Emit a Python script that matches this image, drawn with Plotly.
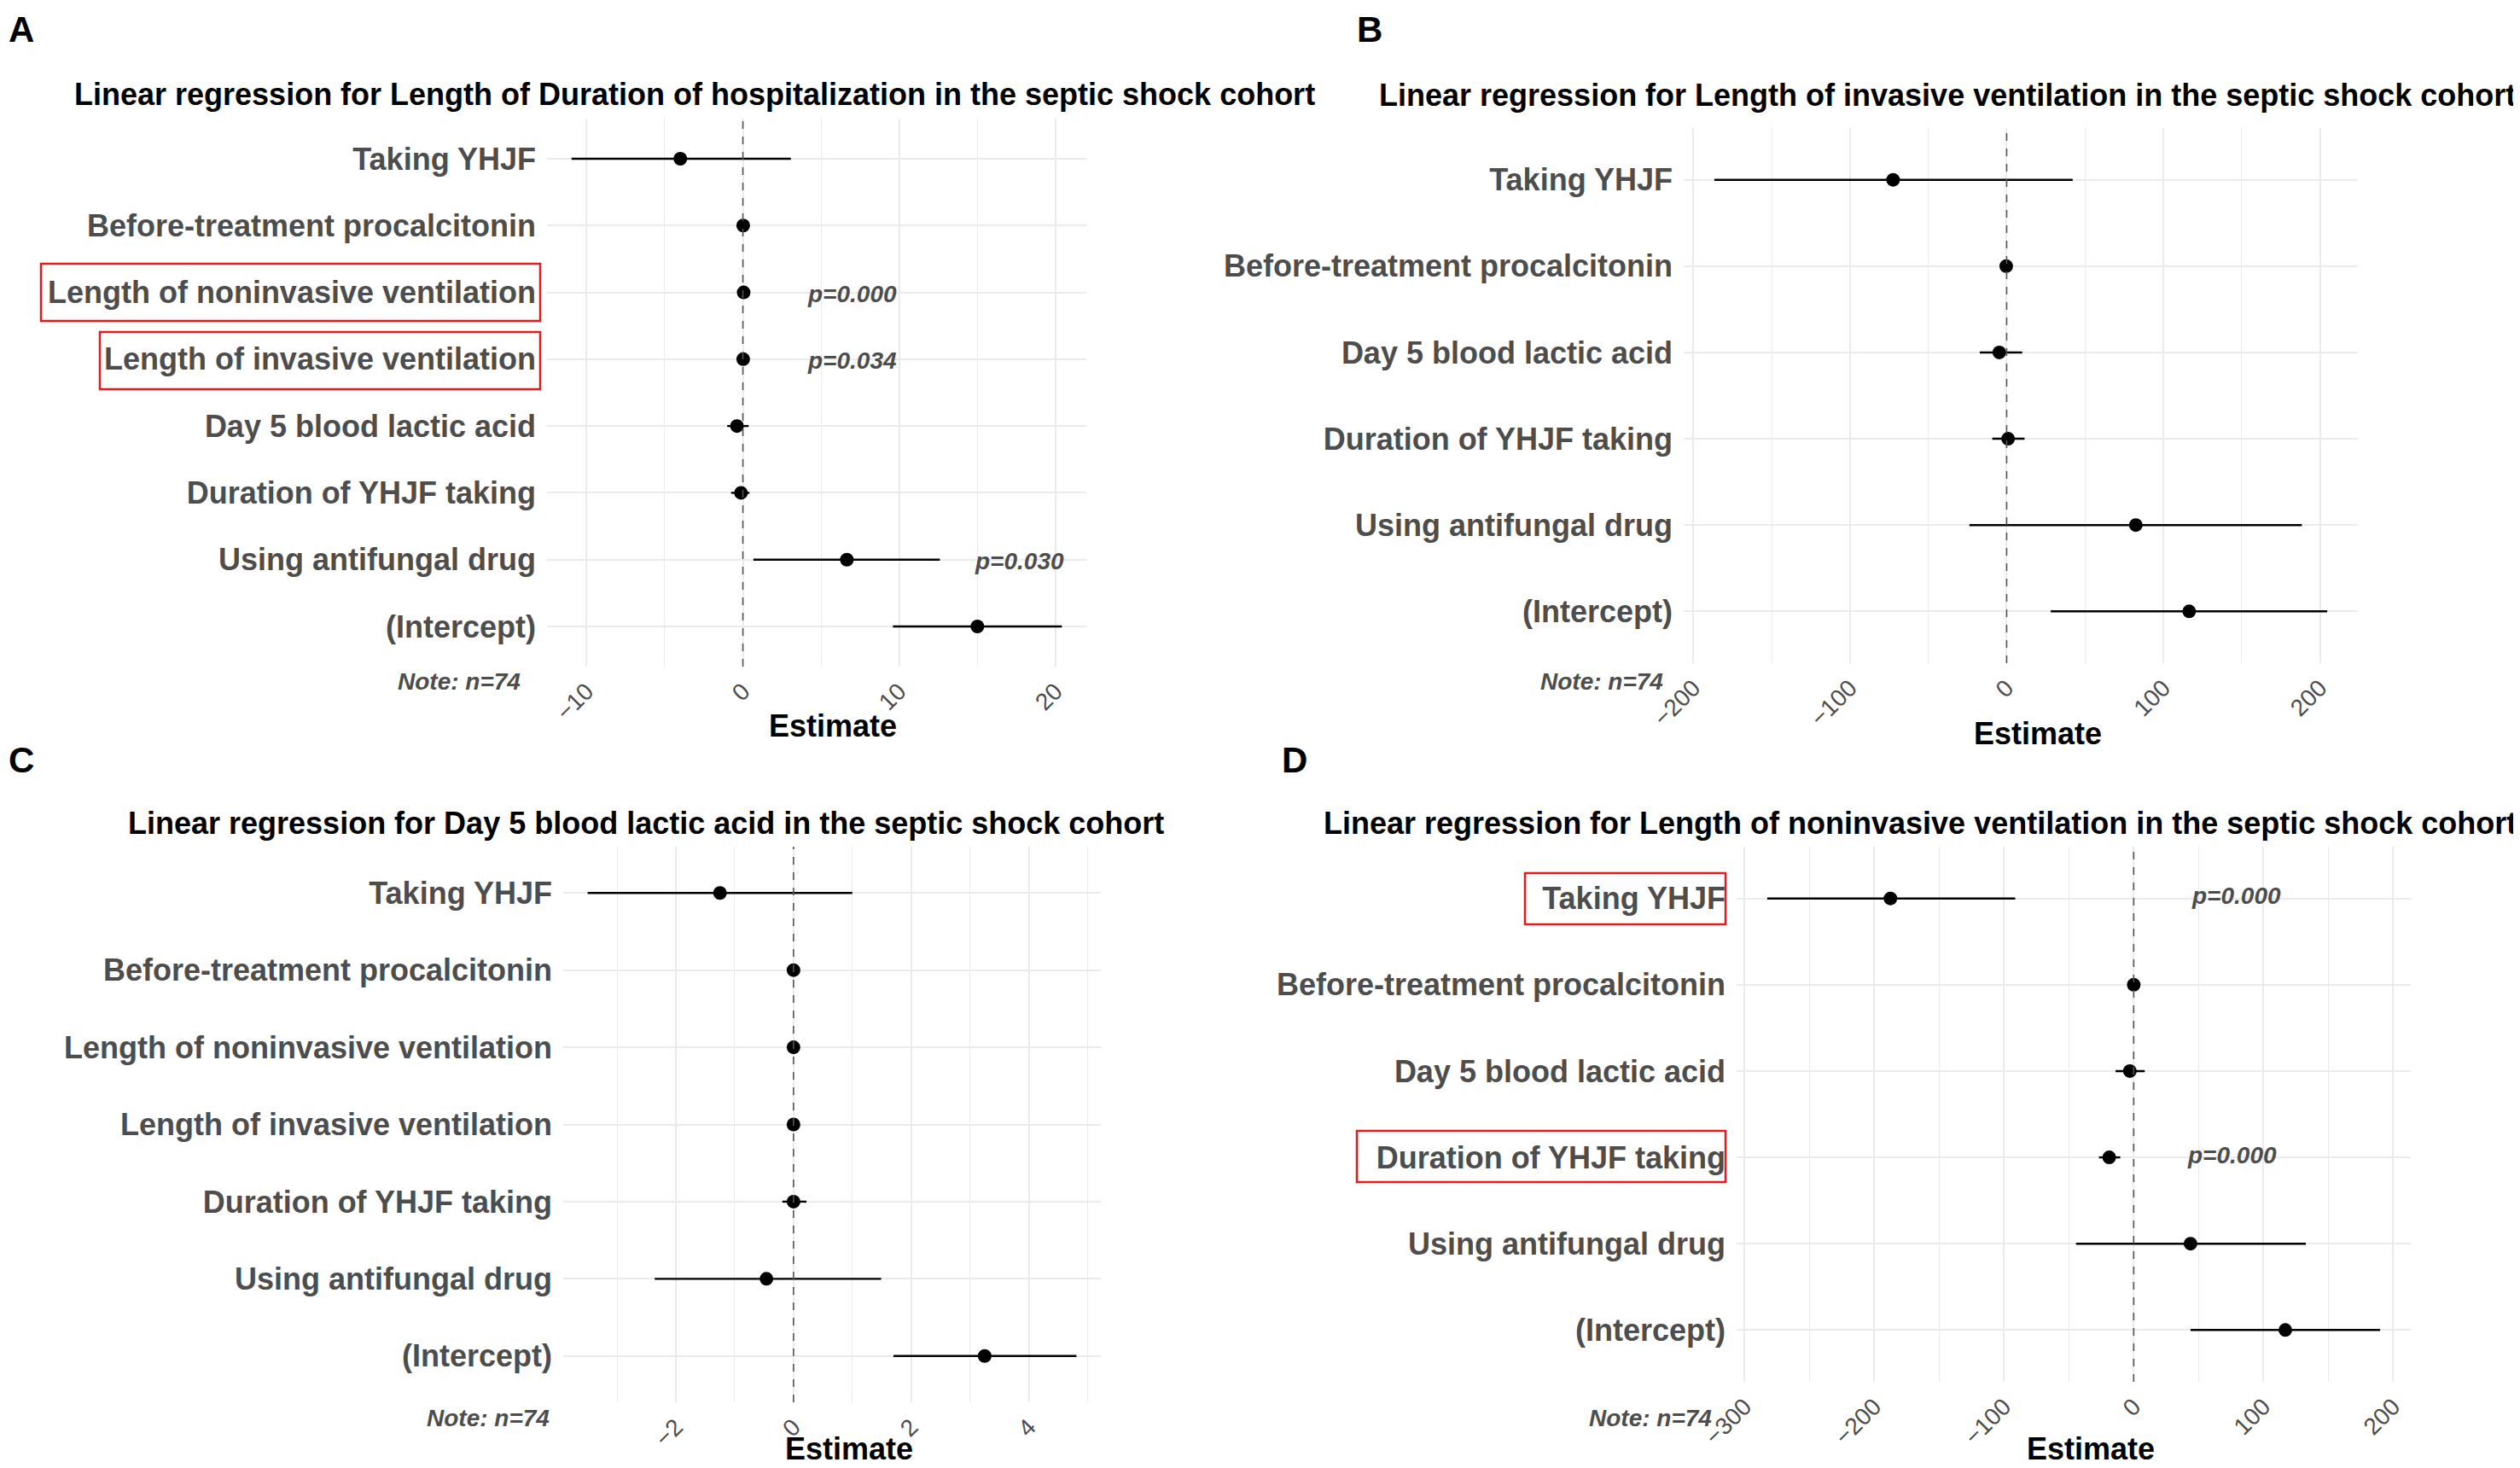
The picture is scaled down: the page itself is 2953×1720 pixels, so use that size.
import plotly.graph_objects as go

W, H = 2953, 1720
OFF = 8  # page body margin of the browser
FW, FH = W - OFF, H - OFF
FONT = "Liberation Sans, Arial, Helvetica, sans-serif"
GREY = "#4D4D4D"

# ---------------- data ----------------
labels_a = ["Taking YHJF", "Before-treatment procalcitonin", "Length of noninvasive ventilation",
            "Length of invasive ventilation", "Day 5 blood lactic acid", "Duration of YHJF taking",
            "Using antifungal drug", "(Intercept)"]
est_a = [-4.0, 0.02, 0.05, 0.02, -0.38, -0.12, 6.65, 15.0]
lo_a = [-10.96, -0.05, 0.0, -0.03, -1.0, -0.75, 0.67, 9.6]
hi_a = [3.07, 0.09, 0.1, 0.07, 0.37, 0.42, 12.6, 20.4]
ticks_a = [-10, 0, 10, 20]
p_text_a = ["p=0.000", "p=0.034", "p=0.030"]
p_row_a = ["Length of noninvasive ventilation", "Length of invasive ventilation", "Using antifungal drug"]
p_x_a = [7.0, 7.0, 17.7]

labels_b = ["Taking YHJF", "Before-treatment procalcitonin", "Day 5 blood lactic acid",
            "Duration of YHJF taking", "Using antifungal drug", "(Intercept)"]
est_b = [-72.5, -0.3, -4.7, 0.9, 82.4, 116.5]
lo_b = [-186.6, -1.0, -17.2, -9.2, -23.8, 28.1]
hi_b = [42.1, 0.4, 9.9, 11.4, 188.4, 204.6]
ticks_b = [-200, -100, 0, 100, 200]

labels_c = ["Taking YHJF", "Before-treatment procalcitonin", "Length of noninvasive ventilation",
            "Length of invasive ventilation", "Duration of YHJF taking", "Using antifungal drug",
            "(Intercept)"]
est_c = [-1.25, 0.0, 0.0, 0.0, 0.0, -0.46, 3.25]
lo_c = [-3.50, -0.01, -0.005, -0.005, -0.19, -2.36, 1.70]
hi_c = [1.0, 0.01, 0.005, 0.005, 0.22, 1.49, 4.81]
ticks_c = [-2, 0, 2, 4]

labels_d = ["Taking YHJF", "Before-treatment procalcitonin", "Day 5 blood lactic acid",
            "Duration of YHJF taking", "Using antifungal drug", "(Intercept)"]
est_d = [-187.6, 0.0, -3.0, -18.9, 43.8, 116.9]
lo_d = [-282.6, -0.5, -14.0, -26.8, -44.5, 43.8]
hi_d = [-91.4, 0.5, 8.5, -10.4, 132.7, 190.0]
ticks_d = [-300, -200, -100, 0, 100, 200]
p_text_d = ["p=0.000", "p=0.000"]
p_row_d = ["Taking YHJF", "Duration of YHJF taking"]
p_x_d = [79.0, 76.0]

titles = ["Linear regression for Length of Duration of hospitalization in the septic shock cohort",
          "Linear regression for Length of invasive ventilation in the septic shock cohort",
          "Linear regression for Day 5 blood lactic acid in the septic shock cohort",
          "Linear regression for Length of noninvasive ventilation in the septic shock cohort"]
panel_letters = ["A", "B", "C", "D"]
note_text = "Note: n=74"
xlab = "Estimate"

# ---------------- layout geometry (window pixels) ----------------
def px(x):
    return max(x - OFF, 0) / FW

def py(y):
    return 1 - max(y - OFF, 0) / FH

panels = [
    dict(lab=labels_a, est=est_a, lo=lo_a, hi=hi_a, ticks=ticks_a, dom_x=(641, 1273), dom_y=(139, 781),
         title_xy=(814, 111), letter_xy=(5, 34), note_xy=(612, 798), xlab_xy=(976, 850)),
    dict(lab=labels_b, est=est_b, lo=lo_b, hi=hi_b, ticks=ticks_b, dom_x=(1973, 2763), dom_y=(150, 777),
         title_xy=(2282, 112), letter_xy=(1588, 34), note_xy=(1951, 798), xlab_xy=(2388, 859)),
    dict(lab=labels_c, est=est_c, lo=lo_c, hi=hi_c, ticks=ticks_c, dom_x=(660, 1290), dom_y=(992, 1643),
         title_xy=(757, 964), letter_xy=(5, 890), note_xy=(646, 1661), xlab_xy=(995, 1697)),
    dict(lab=labels_d, est=est_d, lo=lo_d, hi=hi_d, ticks=ticks_d, dom_x=(2035, 2825), dom_y=(992, 1619),
         title_xy=(2250, 964), letter_xy=(1500, 890), note_xy=(2008, 1661), xlab_xy=(2450, 1697)),
]

fig = go.Figure()
annotations = []
shapes = []

for i, p in enumerate(panels):
    n = i + 1
    xa = "x" if n == 1 else f"x{n}"
    ya = "y" if n == 1 else f"y{n}"
    fig.add_trace(go.Scatter(
        x=p["est"], y=p["lab"], mode="markers", xaxis=xa, yaxis=ya,
        marker=dict(color="black", size=16),
        error_x=dict(type="data", symmetric=False,
                     array=[h - e for h, e in zip(p["hi"], p["est"])],
                     arrayminus=[e - l for e, l in zip(p["est"], p["lo"])],
                     width=0, thickness=2.4, color="black"),
        showlegend=False, hoverinfo="skip"))

    lo_min = min(p["lo"])
    hi_max = max(p["hi"])
    span = hi_max - lo_min
    xr = [lo_min - 0.05 * span, hi_max + 0.05 * span]
    step = p["ticks"][1] - p["ticks"][0]
    ncat = len(p["lab"])

    xkey = "xaxis" if n == 1 else f"xaxis{n}"
    ykey = "yaxis" if n == 1 else f"yaxis{n}"
    fig.layout[xkey] = dict(
        domain=[px(p["dom_x"][0]), px(p["dom_x"][1])], anchor=ya, range=xr, automargin=False,
        tickmode="array", tickvals=p["ticks"], tickangle=-45,
        tickfont=dict(family=FONT, size=28, color=GREY),
        showgrid=True, gridcolor="#EBEBEB", gridwidth=2,
        minor=dict(dtick=step / 2, tick0=p["ticks"][0] - step / 2, showgrid=True, gridcolor="#EBEBEB", gridwidth=1),
        zeroline=False, showline=False, ticks="", ticklabelstandoff=6)
    fig.layout[ykey] = dict(
        domain=[py(p["dom_y"][1]), py(p["dom_y"][0])], anchor=xa, automargin=False,
        type="category", categoryorder="array", categoryarray=p["lab"],
        range=[ncat - 0.4, -0.6],
        tickfont=dict(family=FONT, size=36, color=GREY, weight="bold"),
        showgrid=True, gridcolor="#EBEBEB", gridwidth=2,
        zeroline=False, showline=False, ticks="", ticklabelstandoff=12)

    shapes.append(dict(type="line", xref=xa, yref=f"{ya} domain", x0=0, x1=0, y0=0, y1=1,
                       line=dict(color="#555555", width=1.6, dash="9px,9px"), layer="above"))

    annotations.append(dict(text=titles[i], x=px(p["title_xy"][0]), y=py(p["title_xy"][1]),
                            xref="paper", yref="paper", xanchor="center", yanchor="middle", showarrow=False,
                            font=dict(family=FONT, size=36, color="black", weight="bold")))
    annotations.append(dict(text=panel_letters[i], x=px(p["letter_xy"][0]), y=py(p["letter_xy"][1]),
                            xref="paper", yref="paper", xanchor="left", yanchor="middle", showarrow=False,
                            font=dict(family=FONT, size=42, color="black", weight="bold")))
    annotations.append(dict(text=note_text, x=px(p["note_xy"][0]), y=py(p["note_xy"][1]),
                            xref="paper", yref="paper", xanchor="right", yanchor="middle", showarrow=False,
                            font=dict(family=FONT, size=28, color=GREY, weight="bold", style="italic")))
    annotations.append(dict(text=xlab, x=px(p["xlab_xy"][0]), y=py(p["xlab_xy"][1]),
                            xref="paper", yref="paper", xanchor="center", yanchor="middle", showarrow=False,
                            font=dict(family=FONT, size=36, color="black", weight="bold")))

# p-value labels
for txt, row, xv in zip(p_text_a, p_row_a, p_x_a):
    annotations.append(dict(text=txt, x=xv, y=row, xref="x", yref="y", showarrow=False,
                            xanchor="center", yanchor="middle", yshift=-2,
                            font=dict(family=FONT, size=28, color=GREY, weight="bold", style="italic")))
for txt, row, xv in zip(p_text_d, p_row_d, p_x_d):
    annotations.append(dict(text=txt, x=xv, y=row, xref="x4", yref="y4", showarrow=False,
                            xanchor="center", yanchor="middle", yshift=3,
                            font=dict(family=FONT, size=28, color=GREY, weight="bold", style="italic")))

# red highlight boxes around labels (window-pixel boxes)
boxes = [(48, 309, 633, 376), (117, 389, 633, 456), (1787, 1023, 2022, 1083), (1590, 1325, 2022, 1385)]
for (x0, y0, x1, y1) in boxes:
    shapes.append(dict(type="rect", xref="paper", yref="paper", x0=px(x0), x1=px(x1), y0=py(y1), y1=py(y0),
                       line=dict(color="#E41A1C", width=2.5), fillcolor="rgba(0,0,0,0)"))

fig.update_layout(width=FW, height=FH, margin=dict(l=0, r=0, t=0, b=0, autoexpand=False),
                  paper_bgcolor="white", plot_bgcolor="white",
                  annotations=annotations, shapes=shapes, showlegend=False)

fig.write_html("out.html")
